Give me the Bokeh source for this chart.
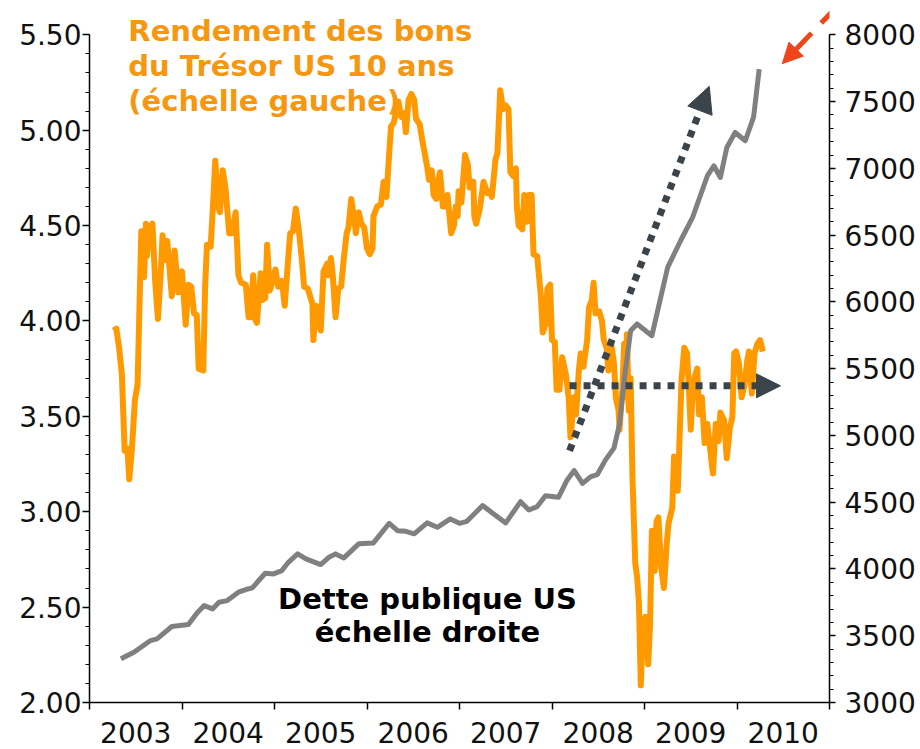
import numpy as np
from bokeh.plotting import figure
from bokeh.models import (Range1d, LinearAxis, FixedTicker, NumeralTickFormatter,
                          Arrow, NormalHead, Label)
from bokeh.embed import file_html
from bokeh.resources import INLINE

# ---------------- data ----------------
yield_dates = [
    2003.26, 2003.29, 2003.32, 2003.35, 2003.38, 2003.41, 2003.43, 2003.46, 2003.49, 2003.52,
    2003.54, 2003.56, 2003.59, 2003.61, 2003.62, 2003.65, 2003.68, 2003.71, 2003.74, 2003.77,
    2003.79, 2003.81, 2003.84, 2003.89, 2003.92, 2003.96, 2004.00, 2004.04, 2004.07, 2004.10,
    2004.13, 2004.16, 2004.18, 2004.23, 2004.25, 2004.27, 2004.31, 2004.33, 2004.36, 2004.39,
    2004.41, 2004.44, 2004.47, 2004.51, 2004.54, 2004.58, 2004.61, 2004.64, 2004.69, 2004.72,
    2004.74, 2004.77, 2004.79, 2004.81, 2004.85, 2004.87, 2004.90, 2004.92, 2004.95, 2004.98,
    2005.01, 2005.04, 2005.08, 2005.11, 2005.15, 2005.17, 2005.20, 2005.23, 2005.26, 2005.30,
    2005.32, 2005.36, 2005.41, 2005.42, 2005.45, 2005.50, 2005.53, 2005.57, 2005.58, 2005.61,
    2005.63, 2005.66, 2005.69, 2005.72, 2005.75, 2005.78, 2005.80, 2005.83, 2005.86, 2005.88,
    2005.91, 2005.94, 2005.97, 2006.00, 2006.03, 2006.06, 2006.07, 2006.11, 2006.15, 2006.18,
    2006.21, 2006.24, 2006.26, 2006.29, 2006.32, 2006.34, 2006.37, 2006.40, 2006.42, 2006.45,
    2006.48, 2006.51, 2006.53, 2006.57, 2006.60, 2006.62, 2006.65, 2006.67, 2006.70, 2006.72,
    2006.75, 2006.77, 2006.79, 2006.82, 2006.85, 2006.87, 2006.91, 2006.94, 2006.96, 2006.98,
    2006.99, 2007.02, 2007.04, 2007.06, 2007.09, 2007.11, 2007.15, 2007.16, 2007.18, 2007.22,
    2007.26, 2007.30, 2007.33, 2007.35, 2007.39, 2007.41, 2007.44, 2007.47, 2007.50, 2007.53,
    2007.55, 2007.58, 2007.61, 2007.62, 2007.64, 2007.68, 2007.70, 2007.73, 2007.75, 2007.78,
    2007.80, 2007.84, 2007.88, 2007.90, 2007.93, 2007.95, 2007.98, 2008.00, 2008.03, 2008.05,
    2008.08, 2008.11, 2008.15, 2008.18, 2008.20, 2008.24, 2008.26, 2008.29, 2008.31, 2008.34,
    2008.38, 2008.40, 2008.43, 2008.45, 2008.47, 2008.51, 2008.54, 2008.56, 2008.59, 2008.61,
    2008.64, 2008.67, 2008.69, 2008.72, 2008.73, 2008.76, 2008.78, 2008.79, 2008.81, 2008.83,
    2008.85, 2008.87, 2008.90, 2008.92, 2008.94, 2008.96, 2008.98, 2009.01, 2009.04, 2009.06,
    2009.08, 2009.11, 2009.13, 2009.15, 2009.18, 2009.21, 2009.24, 2009.26, 2009.30, 2009.32,
    2009.36, 2009.40, 2009.43, 2009.46, 2009.48, 2009.50, 2009.52, 2009.54, 2009.57, 2009.59,
    2009.62, 2009.65, 2009.68, 2009.70, 2009.74, 2009.77, 2009.80, 2009.82, 2009.86, 2009.89,
    2009.92, 2009.95, 2009.97, 2009.99, 2010.02, 2010.05, 2010.08, 2010.11, 2010.13, 2010.16,
    2010.19, 2010.22, 2010.25, 2010.28,
]
yield_values = [
    3.95, 3.96, 3.86, 3.72, 3.32, 3.33, 3.17, 3.34, 3.58, 3.67,
    4.07, 4.47, 4.23, 4.51, 4.34, 4.49, 4.51, 4.21, 4.01, 4.25,
    4.45, 4.32, 4.42, 4.13, 4.37, 4.15, 4.26, 3.98, 4.19, 4.18,
    4.04, 4.03, 3.75, 3.74, 4.18, 4.40, 4.39, 4.56, 4.84, 4.60,
    4.57, 4.79, 4.70, 4.46, 4.46, 4.57, 4.24, 4.20, 4.19, 4.02,
    4.02, 4.24, 4.01, 3.99, 4.25, 4.11, 4.12, 4.40, 4.16, 4.21,
    4.27, 4.18, 4.21, 4.08, 4.34, 4.46, 4.47, 4.59, 4.49, 4.30,
    4.18, 4.17, 4.09, 3.90, 4.08, 3.95, 4.26, 4.30, 4.24, 4.33,
    4.24, 4.02, 4.17, 4.18, 4.33, 4.46, 4.49, 4.64, 4.54, 4.46,
    4.57, 4.51, 4.49, 4.38, 4.35, 4.38, 4.55, 4.60, 4.61, 4.73,
    4.65, 4.88, 5.02, 5.04, 5.11, 5.15, 5.07, 5.09, 4.99, 5.16,
    5.19, 5.16, 5.06, 5.03, 4.94, 4.89, 4.81, 4.74, 4.79, 4.66,
    4.64, 4.74, 4.78, 4.60, 4.60, 4.66, 4.46, 4.50, 4.60, 4.55,
    4.68, 4.62, 4.74, 4.87, 4.82, 4.70, 4.73, 4.55, 4.51, 4.59,
    4.73, 4.67, 4.68, 4.65, 4.85, 4.88, 5.21, 5.11, 5.13, 5.11,
    4.78, 4.76, 4.80, 4.60, 4.50, 4.48, 4.66, 4.52, 4.66, 4.66,
    4.35, 4.34, 4.13, 3.94, 3.98, 4.17, 4.19, 3.90, 3.89, 3.64,
    3.64, 3.81, 3.72, 3.60, 3.39, 3.60, 3.51, 3.74, 3.83, 3.76,
    3.90, 4.07, 4.11, 4.20, 4.04, 4.05, 4.00, 3.90, 3.86, 3.74,
    3.88, 3.78, 3.60, 3.53, 3.43, 3.64, 3.88, 3.60, 3.93, 3.53,
    3.70, 3.18, 2.73, 2.66, 2.52, 2.09, 2.36, 2.45, 2.20, 2.41,
    2.90, 2.69, 2.95, 2.97, 2.71, 2.60, 2.83, 2.94, 3.02, 3.29,
    3.11, 3.69, 3.86, 3.83, 3.65, 3.43, 3.62, 3.70, 3.75, 3.51,
    3.60, 3.36, 3.46, 3.37, 3.20, 3.46, 3.37, 3.52, 3.48, 3.28,
    3.43, 3.50, 3.83, 3.84, 3.78, 3.60, 3.66, 3.79, 3.84, 3.62,
    3.83, 3.88, 3.90, 3.84,
]

debt_dates = [
    2003.34, 2003.48, 2003.66, 2003.73, 2003.89, 2004.07, 2004.16, 2004.24, 2004.33, 2004.40,
    2004.49, 2004.61, 2004.69, 2004.76, 2004.90, 2004.99, 2005.08, 2005.15, 2005.25, 2005.34,
    2005.50, 2005.59, 2005.66, 2005.75, 2005.91, 2006.07, 2006.24, 2006.33, 2006.42, 2006.51,
    2006.65, 2006.76, 2006.90, 2007.00, 2007.08, 2007.25, 2007.37, 2007.50, 2007.66, 2007.75,
    2007.84, 2007.93, 2008.07, 2008.16, 2008.24, 2008.33, 2008.42, 2008.49, 2008.58, 2008.67,
    2008.73, 2008.78, 2008.85, 2008.92, 2009.08, 2009.25, 2009.39, 2009.52, 2009.68, 2009.75,
    2009.82, 2009.89, 2009.98, 2010.09, 2010.18, 2010.24,
]
debt_values = [
    3327, 3376, 3464, 3477, 3569, 3584, 3668, 3726, 3701, 3751,
    3763, 3826, 3846, 3859, 3968, 3963, 3988, 4050, 4113, 4076,
    4033, 4088, 4113, 4083, 4188, 4195, 4342, 4287, 4282, 4263,
    4345, 4312, 4375, 4342, 4357, 4475, 4412, 4345, 4504, 4442,
    4467, 4549, 4537, 4662, 4737, 4641, 4692, 4707, 4819, 4905,
    5086, 5410, 5784, 5835, 5747, 6258, 6458, 6633, 6945, 7019,
    6932, 7156, 7269, 7207, 7386, 7743,
]

year_bounds = [2003, 2004, 2005, 2006, 2007, 2008, 2009, 2010, 2011]
year_labels = ["2003", "2004", "2005", "2006", "2007", "2008", "2009", "2010"]
left_ticks = [2.0, 2.5, 3.0, 3.5, 4.0, 4.5, 5.0, 5.5]
right_ticks = [3000, 3500, 4000, 4500, 5000, 5500, 6000, 6500, 7000, 7500, 8000]
LEFT_MIN, LEFT_MAX = 2.0, 5.5
RIGHT_MIN, RIGHT_MAX = 3000, 8000
# the drawing area goes a little above the top of the axes (room for the title)
LEFT_TOP = 5.68
RIGHT_TOP = RIGHT_MIN + (LEFT_TOP - LEFT_MIN) / (LEFT_MAX - LEFT_MIN) * (RIGHT_MAX - RIGHT_MIN)

title_lines = ["Rendement des bons", "du Trésor US 10 ans", "(échelle gauche)"]
title_x = 2003.42
title_y = [5.518, 5.339, 5.155]
debt_lines = ["Dette publique US", "échelle droite"]
debt_x = 2006.654
debt_y = [2.545, 2.367]

# arrows (data units): x_start, y_start, x_end, y_end
arrow_up = (2008.19, 3.32, 2009.70, 5.23)
arrow_flat = (2008.19, 3.66, 2010.47, 3.66)
arrow_red = (2011.09, 5.653, 2010.49, 5.349)

ORANGE = "#ff9900"
ORANGE_TXT = "#f7960f"
GREY = "#808080"
DARK = "#3b444a"
RED = "#f0441a"
FONT = "DejaVu Sans"
TICK_SIZE = "28px"
TEXT_SIZE = "29px"

# ---------------- figure ----------------
p = figure(width=920, height=749, output_backend="svg", toolbar_location=None,
           x_range=Range1d(2003, 2011), y_range=Range1d(LEFT_MIN, LEFT_TOP),
           min_border_left=89, min_border_right=91, min_border_top=0, min_border_bottom=47,
           background_fill_color="white", border_fill_color="white")
p.outline_line_color = None
p.xgrid.visible = False
p.ygrid.visible = False
p.extra_y_ranges = {"debt": Range1d(RIGHT_MIN, RIGHT_TOP)}

# x axis: labels in the middle of each year, ticks at year boundaries
xa = p.xaxis[0]
mids = [y + 0.5 for y in year_bounds[:-1]]
xa.ticker = FixedTicker(ticks=mids, minor_ticks=year_bounds)
xa.major_label_overrides = {m: lab for m, lab in zip(mids, year_labels)}
xa.major_tick_out = 0
xa.major_tick_in = 0
xa.minor_tick_out = 7
xa.minor_tick_in = 0
xa.minor_tick_line_color = "black"
xa.minor_tick_line_width = 1.5
xa.major_label_standoff = 12
xa.axis_line_color = "black"
xa.axis_line_width = 1.5
xa.major_label_text_font = FONT
xa.major_label_text_font_size = TICK_SIZE
xa.major_label_text_color = "#111111"

ya = p.yaxis[0]
ya.bounds = (LEFT_MIN, LEFT_MAX)
ya.ticker = FixedTicker(ticks=left_ticks,
                        minor_ticks=[round(2.0 + 0.1 * i, 1) for i in range(36)])
ya.formatter = NumeralTickFormatter(format="0.00")
ya.major_tick_out = 7
ya.major_tick_in = 0
ya.minor_tick_out = 4
ya.minor_tick_in = 0
ya.major_tick_line_width = 1.5
ya.minor_tick_line_width = 1.2
ya.axis_line_width = 1.5
ya.major_label_standoff = 1
ya.major_label_text_font = FONT
ya.major_label_text_font_size = TICK_SIZE
ya.major_label_text_color = "#111111"

ra = LinearAxis(y_range_name="debt")
ra.bounds = (RIGHT_MIN, RIGHT_MAX)
ra.ticker = FixedTicker(ticks=right_ticks,
                        minor_ticks=[3000 + 100 * i for i in range(51)])
ra.formatter = NumeralTickFormatter(format="0")
ra.major_tick_out = 6
ra.major_tick_in = 0
ra.minor_tick_out = 4
ra.minor_tick_in = 0
ra.major_tick_line_width = 1.5
ra.minor_tick_line_width = 1.2
ra.axis_line_width = 1.5
ra.major_label_standoff = 9
ra.major_label_text_font = FONT
ra.major_label_text_font_size = TICK_SIZE
ra.major_label_text_color = "#111111"
p.add_layout(ra, "right")

# series
p.line(yield_dates, yield_values, line_color=ORANGE, line_width=6, line_join="round")
p.line(debt_dates, debt_values, y_range_name="debt", line_color=GREY, line_width=5,
       line_join="round")

# arrows
p.add_layout(Arrow(end=NormalHead(size=26, fill_color=DARK, line_color=DARK),
                   x_start=arrow_up[0], y_start=arrow_up[1],
                   x_end=arrow_up[2], y_end=arrow_up[3],
                   line_color=DARK, line_width=7, line_dash="7 7", line_cap="butt"))
p.add_layout(Arrow(end=NormalHead(size=24, fill_color=DARK, line_color=DARK),
                   x_start=arrow_flat[0], y_start=arrow_flat[1],
                   x_end=arrow_flat[2], y_end=arrow_flat[3],
                   line_color=DARK, line_width=7, line_dash="7 7", line_cap="butt"))
p.add_layout(Arrow(end=NormalHead(size=20, fill_color=RED, line_color=RED),
                   x_start=arrow_red[0], y_start=arrow_red[1],
                   x_end=arrow_red[2], y_end=arrow_red[3],
                   line_color=RED, line_width=5, line_dash="24 14", line_cap="butt"))

# texts
for t, yy in zip(title_lines, title_y):
    p.add_layout(Label(x=title_x, y=yy, text=t, text_font=FONT, text_font_size=TEXT_SIZE,
                       text_font_style="bold", text_color=ORANGE_TXT,
                       text_align="left", text_baseline="alphabetic"))
for t, yy in zip(debt_lines, debt_y):
    p.add_layout(Label(x=debt_x, y=yy, text=t, text_font=FONT, text_font_size=TEXT_SIZE,
                       text_font_style="bold", text_color="black",
                       text_align="center", text_baseline="alphabetic"))

open("out.html", "w").write(file_html(p, INLINE))
